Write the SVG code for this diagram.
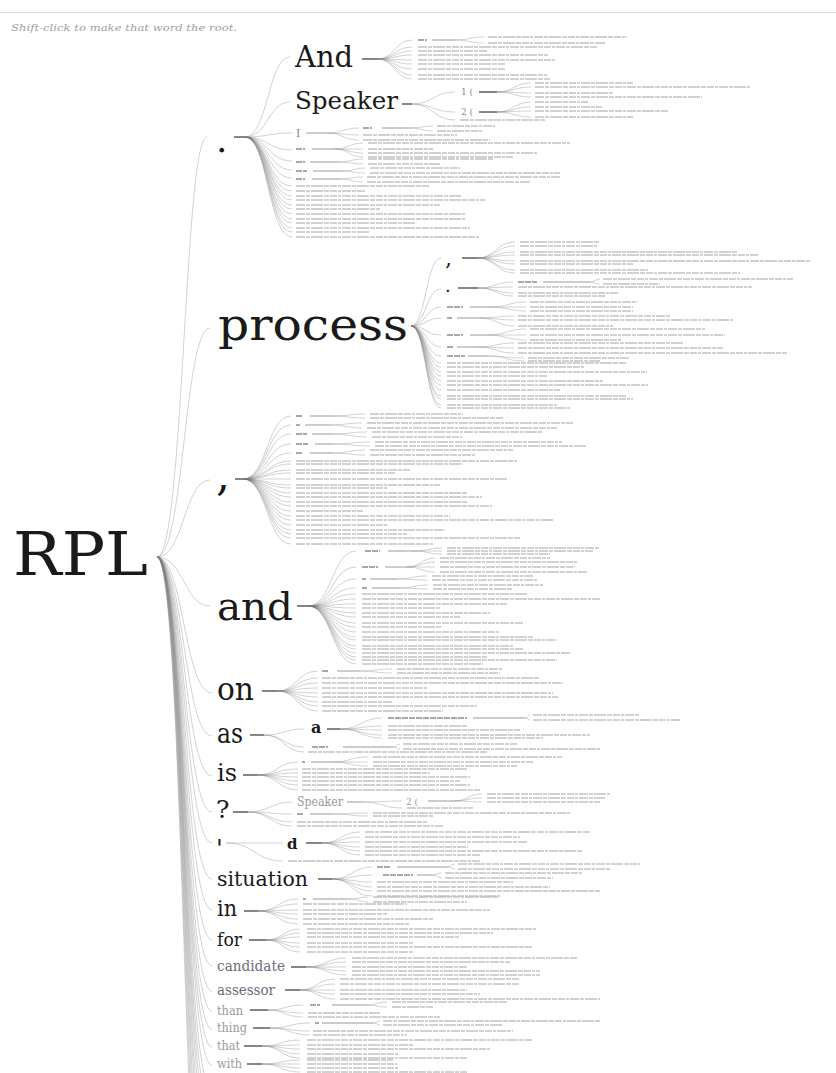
<svg xmlns="http://www.w3.org/2000/svg" width="836" height="1073" viewBox="0 0 836 1073">
<style>
.w{font-family:"DejaVu Serif","Liberation Serif",serif;fill:#1a1a1a}
.g{fill:#6c6c78}
.l{fill:#9a9a9a}
.sm{fill:#8a8a8a}
.hint{font-family:"DejaVu Serif","Liberation Serif",serif;font-style:italic;font-size:10px;fill:#a0a0a0}
.c{fill:none;stroke:#777;stroke-opacity:.42;stroke-width:.8}
.d{fill:none;stroke:#5e5e5e;stroke-width:1.6}
.d2{fill:none;stroke:#9a9a9a;stroke-width:1.2}
.t{fill:none;stroke:#c2c2c2;stroke-width:1.3;stroke-dasharray:9 1 4 1 12 1 5 1 7 1 3 1}
.s{fill:none;stroke:#a8a8a8;stroke-width:2;stroke-dasharray:6 1}
</style>
<rect width="836" height="1073" fill="#fff"/>
<line x1="0" y1="12.5" x2="836" y2="12.5" stroke="#d6d6d6"/>
<text class="hint" x="11" y="31" textLength="226" lengthAdjust="spacingAndGlyphs">Shift-click to make that word the root.</text>

<g id="connectors">
<path class="c" d="M157 557C184 557 184 137 207 137M157 557C184 557 184 328 210 328M157 557C184 557 184 480 210 480M157 557C184 557 184 606 210 606M157 557C184 557 184 693 212 693M157 557C184 557 184 736 212 736M157 557C184 557 184 776 212 776M157 557C184 557 184 812 212 812M157 557C184 557 184 843 212 843M157 557C184 557 184 879 212 879M157 557C184 557 184 910 212 910M157 557C184 557 184 940 212 940M157 557C184 557 184 966 212 966M157 557C184 557 184 991 212 991M157 557C184 557 184 1011 212 1011M157 557C184 557 184 1029 212 1029M157 557C184 557 184 1047 212 1047M157 557C184 557 184 1065 212 1065M157 557C184 557 184 1090 212 1090M157 557C184 557 184 1110 212 1110M157 557C184 557 184 1130 212 1130M157 557C184 557 184 1150 212 1150M157 557C184 557 184 1175 212 1175M157 557C184 557 184 1200 212 1200M157 557C184 557 184 1230 212 1230M157 557C184 557 184 1260 212 1260M157 557C184 557 184 1300 212 1300M157 557C184 557 184 1340 212 1340"/>
<path class="c" d="M245 137C268 137 268 57 290 57M245 137C268 137 268 102 290 102M245 137C268 137 268 133 292 133M245 137C268 137 268 150 292 150M245 137C268 137 268 161 292 161M245 137C268 137 268 170 292 170M245 137C268 137 268 178 292 178M245 137C268 137 268 186 292 186M245 137C268 137 268 191 292 191M245 137C268 137 268 196 292 196M245 137C268 137 268 200 292 200M245 137C268 137 268 205 292 205M245 137C268 137 268 209 292 209M245 137C268 137 268 214 292 214M245 137C268 137 268 219 292 219M245 137C268 137 268 223 292 223M245 137C268 137 268 228 292 228M245 137C268 137 268 232 292 232M245 137C268 137 268 237 292 237"/>
<path class="c" d="M377 59C395 59 395 40 412 40M377 59C395 59 395 47 412 47M377 59C395 59 395 51 412 51M377 59C395 59 395 55 412 55M377 59C395 59 395 60 412 60M377 59C395 59 395 64 412 64M377 59C395 59 395 69 412 69M377 59C395 59 395 75 412 75M377 59C395 59 395 79 412 79M455 40C470 40 470 37 484 37M455 40C470 40 470 43 484 43M412 104C433 104 433 92 455 92M412 104C433 104 433 112 455 112M412 104C433 104 433 120 455 120M497 92C514 92 514 83 531 83M497 92C514 92 514 87 531 87M497 92C514 92 514 93 531 93M497 92C514 92 514 97 531 97M497 112C514 112 514 102 531 102M497 112C514 112 514 107 531 107M497 112C514 112 514 111 531 111M497 112C514 112 514 117 531 117M327 133C343 133 343 128 359 128M327 133C343 133 343 135 359 135M327 133C343 133 343 140 359 140M410 128C422 128 422 126 433 126M410 128C422 128 422 131 433 131M335 149C349 149 349 143 363 143M335 149C349 149 349 149 363 149M335 149C349 149 349 153 363 153M335 149C349 149 349 157 363 157M338 162C351 162 351 159 363 159M338 162C351 162 351 164 363 164M342 171C354 171 354 168 365 168M342 171C354 171 354 173 365 173M340 179C352 179 352 177 363 177M340 179C352 179 352 182 363 182"/>
<path class="c" d="M411 326C426 326 426 258 441 258M411 326C426 326 426 289 441 289M411 326C426 326 426 307 441 307M411 326C426 326 426 318 441 318M411 326C426 326 426 335 441 335M411 326C426 326 426 347 441 347M411 326C426 326 426 356 441 356M411 326C426 326 426 363 441 363M411 326C426 326 426 367 441 367M411 326C426 326 426 372 441 372M411 326C426 326 426 376 441 376M411 326C426 326 426 381 441 381M411 326C426 326 426 385 441 385M411 326C426 326 426 390 441 390M411 326C426 326 426 396 441 396M411 326C426 326 426 399 441 399M411 326C426 326 426 405 441 405M411 326C426 326 426 408 441 408"/>
<path class="c" d="M477 258C496 258 496 242 515 242M477 258C496 258 496 246 515 246M477 258C496 258 496 252 515 252M477 258C496 258 496 255 515 255M477 258C496 258 496 261 515 261M477 258C496 258 496 264 515 264M477 258C496 258 496 270 515 270M477 258C496 258 496 273 515 273M478 288C496 288 496 282 513 282M478 288C496 288 496 287 513 287M478 288C496 288 496 293 513 293M478 288C496 288 496 296 513 296M590 282C595 282 595 279 600 279M590 282C595 282 595 284 600 284M490 307C508 307 508 302 526 302M490 307C508 307 508 307 526 307M490 307C508 307 508 311 526 311M480 318C497 318 497 316 514 316M480 318C497 318 497 320 514 320M480 318C497 318 497 326 514 326M487 335C507 335 507 329 526 329M487 335C507 335 507 335 526 335M487 335C507 335 507 340 526 340M477 347C496 347 496 343 514 343M477 347C496 347 496 348 514 348M477 347C496 347 496 353 514 353M488 356C506 356 506 358 524 358M488 356C506 356 506 361 524 361"/>
<path class="c" d="M243 479C267 479 267 416 291 416M243 479C267 479 267 425 291 425M243 479C267 479 267 434 291 434M243 479C267 479 267 444 291 444M243 479C267 479 267 453 291 453M243 479C267 479 267 461 291 461M243 479C267 479 267 464 291 464M243 479C267 479 267 470 291 470M243 479C267 479 267 473 291 473M243 479C267 479 267 479 291 479M243 479C267 479 267 485 291 485M243 479C267 479 267 488 291 488M243 479C267 479 267 493 291 493M243 479C267 479 267 497 291 497M243 479C267 479 267 502 291 502M243 479C267 479 267 506 291 506M243 479C267 479 267 511 291 511M243 479C267 479 267 516 291 516M243 479C267 479 267 520 291 520M243 479C267 479 267 525 291 525M243 479C267 479 267 530 291 530M243 479C267 479 267 534 291 534M243 479C267 479 267 538 291 538M243 479C267 479 267 544 291 544M333 416C349 416 349 414 365 414M333 416C349 416 349 418 365 418M330 425C346 425 346 423 362 423M330 425C346 425 346 428 362 428M333 434C350 434 350 432 367 432M333 434C350 434 350 437 367 437M333 444C352 444 352 442 370 442M333 444C352 444 352 446 370 446M333 453C349 453 349 450 365 450M333 453C349 453 349 455 365 455"/>
<path class="c" d="M308 606C332 606 332 551 356 551M308 606C332 606 332 567 356 567M308 606C332 606 332 579 356 579M308 606C332 606 332 588 356 588M308 606C332 606 332 594 356 594M308 606C332 606 332 599 356 599M308 606C332 606 332 604 356 604M308 606C332 606 332 608 356 608M308 606C332 606 332 613 356 613M308 606C332 606 332 617 356 617M308 606C332 606 332 623 356 623M308 606C332 606 332 627 356 627M308 606C332 606 332 632 356 632M308 606C332 606 332 637 356 637M308 606C332 606 332 640 356 640M308 606C332 606 332 646 356 646M308 606C332 606 332 649 356 649M308 606C332 606 332 653 356 653M308 606C332 606 332 657 356 657M308 606C332 606 332 660 356 660M308 606C332 606 332 664 356 664M413 551C428 551 428 548 442 548M413 551C428 551 428 551 442 551M413 551C428 551 428 554 442 554M407 567C421 567 421 558 435 558M407 567C421 567 421 562 435 562M407 567C421 567 421 567 435 567M407 567C421 567 421 572 435 572M397 579C412 579 412 576 427 576M397 579C412 579 412 580 427 580M400 588C414 588 414 585 428 585M400 588C414 588 414 589 428 589"/>
<path class="c" d="M277 691C297 691 297 671 318 671M277 691C297 691 297 678 318 678M277 691C297 691 297 683 318 683M277 691C297 691 297 688 318 688M277 691C297 691 297 693 318 693M277 691C297 691 297 697 318 697M277 691C297 691 297 702 318 702M277 691C297 691 297 706 318 706M277 691C297 691 297 711 318 711M360 671C376 671 376 669 392 669M360 671C376 671 376 673 392 673"/>
<path class="c" d="M264 735C284 735 284 729 304 729M264 735C284 735 284 747 304 747M264 735C284 735 284 752 304 752M340 729C361 729 361 718 382 718M340 729C361 729 361 726 382 726M340 729C361 729 361 730 382 730M340 729C361 729 361 735 382 735M340 729C361 729 361 738 382 738M525 718C528 718 528 715 530 715M525 718C528 718 528 720 530 720M393 747C397 747 397 744 400 744M393 747C397 747 397 749 400 749"/>
<path class="c" d="M257 775C278 775 278 762 298 762M257 775C278 775 278 769 298 769M257 775C278 775 278 773 298 773M257 775C278 775 278 777 298 777M257 775C278 775 278 781 298 781M257 775C278 775 278 785 298 785M257 775C278 775 278 790 298 790M333 762C350 762 350 757 368 757M333 762C350 762 350 762 368 762M333 762C350 762 350 766 368 766"/>
<path class="c" d="M248 812C270 812 270 802 292 802M248 812C270 812 270 814 292 814M248 812C270 812 270 822 292 822M248 812C270 812 270 826 292 826M362 802C382 802 382 801 402 801M362 802C382 802 382 808 402 808M453 801C468 801 468 794 482 794M453 801C468 801 468 798 482 798M453 801C468 801 468 802 482 802M333 814C350 814 350 813 368 813M333 814C350 814 350 816 368 816"/>
<path class="c" d="M226 843C255 843 255 843 283 843M226 843C255 843 255 861 283 861M322 843C341 843 341 832 360 832M322 843C341 843 341 837 360 837M322 843C341 843 341 842 360 842M322 843C341 843 341 847 360 847M322 843C341 843 341 851 360 851M322 843C341 843 341 855 360 855"/>
<path class="c" d="M332 879C352 879 352 867 372 867M332 879C352 879 352 875 372 875M332 879C352 879 352 882 372 882M332 879C352 879 352 887 372 887M332 879C352 879 352 891 372 891M332 879C352 879 352 896 372 896M447 867C451 867 451 864 455 864M447 867C451 867 451 869 455 869M433 875C437 875 437 873 442 873M433 875C437 875 437 878 442 878"/>
<path class="c" d="M258 911C278 911 278 899 298 899M258 911C278 911 278 904 298 904M258 911C278 911 278 910 298 910M258 911C278 911 278 914 298 914M258 911C278 911 278 919 298 919M258 911C278 911 278 924 298 924M350 899C359 899 359 897 368 897M350 899C359 899 359 902 368 902"/>
<path class="c" d="M266 940C283 940 283 929 300 929M266 940C283 940 283 933 300 933M266 940C283 940 283 937 300 937M266 940C283 940 283 943 300 943M266 940C283 940 283 947 300 947M266 940C283 940 283 952 300 952"/>
<path class="c" d="M306 967C326 967 326 958 346 958M306 967C326 967 326 962 346 962M306 967C326 967 326 967 346 967M306 967C326 967 326 971 346 971M306 967C326 967 326 975 346 975"/>
<path class="c" d="M300 990C317 990 317 979 335 979M300 990C317 990 317 984 335 984M300 990C317 990 317 990 335 990M300 990C317 990 317 994 335 994M300 990C317 990 317 999 335 999"/>
<path class="c" d="M268 1010C285 1010 285 1005 303 1005M268 1010C285 1010 285 1013 303 1013M268 1010C285 1010 285 1017 303 1017M367 1005C377 1005 377 1002 387 1002M367 1005C377 1005 377 1007 387 1007"/>
<path class="c" d="M270 1028C290 1028 290 1023 310 1023M270 1028C290 1028 290 1031 310 1031M270 1028C290 1028 290 1035 310 1035M373 1023C377 1023 377 1021 380 1021M373 1023C377 1023 377 1025 380 1025"/>
<path class="c" d="M262 1046C281 1046 281 1040 300 1040M262 1046C281 1046 281 1045 300 1045M262 1046C281 1046 281 1049 300 1049M262 1046C281 1046 281 1054 300 1054M262 1046C281 1046 281 1058 300 1058"/>
<path class="c" d="M262 1064C281 1064 281 1060 300 1060M262 1064C281 1064 281 1064 300 1064M262 1064C281 1064 281 1068 300 1068M262 1064C281 1064 281 1072 300 1072"/>
<path class="d" d="M234 137H245M362 59H377M402 104H412M479 92H497M479 112H497M462 258H477M458 288H478M235 479H243M297 606H308M262 691H277M250 735H264M327 729H340M243 775H257M233 812H248M306 843H322M318 879H332M244 911H258M249 940H266M291 967H306M285 990H300M250 1010H268M253 1028H270M244 1046H262M247 1064H262"/>
<path class="d2" d="M432 40H455M306 133H327M382 128H410M312 149H335M310 162H338M313 171H342M312 179H340M543 282H590M470 307H490M457 318H480M470 335H487M457 347H477M468 356H488M310 416H333M305 425H330M312 434H333M315 444H333M310 453H333M388 551H413M385 567H407M370 579H397M372 588H400M337 671H360M473 718H525M343 747H393M311 762H333M347 802H362M428 801H453M310 814H333M397 867H447M417 875H433M313 899H350M332 1005H367M322 1023H373"/>
</g>

<g id="leaf-texts">
<path class="s" d="M418 40H427M363 128H372M296 149H305M296 162H305M296 171H307M296 179H305M518 282H537M447 307H463M447 318H452M447 335H463M447 347H453M447 356H465M296 416H303M296 425H300M296 434H307M296 444H308M296 453H303M365 551H380M362 567H378M362 579H366M362 588H367M322 671H328M388 718H467M312 747H328M302 762H305M297 814H303M377 867H390M383 875H413M303 899H306M310 1005H320M315 1023H319"/>
<path class="t" d="M296 186H430M296 191H365M296 196H462M296 200H485M296 205H440M296 209H380M296 214H465M296 219H465M296 223H415M296 228H470M296 232H370M296 237H480M488 37H627M488 43H605M418 47H597M418 51H487M418 55H548M418 60H555M418 64H505M418 69H506M418 75H547M418 79H550M460 120H545M535 83H633M535 87H750M535 93H613M535 97H702M535 102H588M535 107H602M535 111H668M535 117H633M437 126H495M437 131H483M363 135H457M363 140H490M368 143H570M368 149H433M368 153H537M368 157H513M368 159H493M368 164H440M370 168H460M370 173H560M367 177H560M367 182H530"/>
<path class="t" d="M520 242H600M520 246H597M520 252H737M520 255H758M520 261H810M520 264H633M520 270H648M520 273H740M603 279H793M603 284H660M518 287H752M518 293H618M518 296H605M530 302H638M530 307H633M530 311H633M518 316H670M518 320H733M518 326H613M530 329H705M530 335H725M530 340H622M518 343H683M518 348H723M518 353H787M528 358H630M528 361H600M447 363H627M447 367H585M447 372H647M447 376H547M447 381H603M447 385H648M447 390H560M447 396H627M447 399H633M447 405H557M447 408H570"/>
<path class="t" d="M370 414H463M370 418H503M367 423H573M367 428H557M372 432H542M372 437H462M375 442H562M375 446H587M370 450H513M370 455H475M296 461H517M296 464H463M296 470H410M296 473H395M296 479H508M296 485H440M296 488H387M296 493H467M296 497H482M296 502H468M296 506H492M296 511H363M296 516H450M296 520H553M296 525H387M296 530H445M296 534H407M296 538H520M296 544H433"/>
<path class="t" d="M447 548H600M447 551H593M447 554H550M440 558H550M440 562H577M440 567H575M440 572H587M432 576H533M432 580H537M433 585H543M433 589H513M362 594H527M362 599H600M362 604H507M362 608H440M362 613H490M362 617H460M362 623H523M362 627H442M362 632H500M362 637H533M362 640H557M362 646H513M362 649H523M362 653H570M362 657H487M362 660H557M362 664H483"/>
<path class="t" d="M397 669H502M397 673H500M322 678H540M322 683H563M322 688H427M322 693H553M322 697H558M322 702H392M322 706H477M322 711H443M533 715H640M533 720H680M388 726H467M388 730H520M388 735H590M388 738H543M403 744H517M403 749H600M308 752H487M373 757H562M373 762H533M373 766H517M302 769H467M302 773H430M302 777H470M302 781H460M302 785H470M302 790H480M487 794H610M487 798H605M487 802H600M407 808H473M373 813H570M373 816H433M297 822H427M297 826H443M365 832H590M365 837H520M365 842H527M365 847H468M365 851H583M365 855H480M288 861H480"/>
<path class="t" d="M458 864H640M458 869H610M445 873H583M445 878H553M377 882H513M377 887H550M377 891H600M377 896H500M373 897H498M373 902H467M303 904H407M303 910H490M303 914H387M303 919H433M303 924H410M307 929H537M307 933H493M307 937H460M307 943H413M307 947H533M307 952H413M352 958H577M352 962H510M352 967H467M352 971H540M352 975H540M340 979H520M340 984H520M340 990H467M340 994H480M340 999H600M392 1002H507M392 1007H433M308 1013H380M308 1017H440M383 1021H600M383 1025H503M313 1031H513M313 1035H407M307 1040H533M307 1045H413M307 1049H490M307 1054H398M307 1058H467M307 1060H393M307 1064H397M307 1068H398M307 1072H467"/>
</g>

<g id="n-RPL"><text class="w" x="13" y="575" font-size="60" textLength="135" lengthAdjust="spacingAndGlyphs">RPL</text></g>
<g id="n-dot"><text class="w" x="216" y="152" font-size="36">.</text></g>
<g id="n-And"><text class="w" x="295" y="67" font-size="29" textLength="58" lengthAdjust="spacingAndGlyphs">And</text></g>
<g id="n-Speaker"><text class="w" x="295" y="109" font-size="25" textLength="103" lengthAdjust="spacingAndGlyphs">Speaker</text></g>
<g id="n-1"><text class="w sm" x="461" y="95" font-size="9">1 (</text></g>
<g id="n-2"><text class="w sm" x="461" y="115" font-size="9">2 (</text></g>
<g id="n-I"><text class="w sm" x="296" y="137" font-size="11">I</text></g>
<g id="n-process"><text class="w" x="218" y="340" font-size="44" textLength="190" lengthAdjust="spacingAndGlyphs">process</text></g>
<g id="n-process-comma"><text class="w" x="445" y="266" font-size="22" fill="#333">,</text></g>
<g id="n-process-dot"><text class="w" x="445" y="292" font-size="18" fill="#555">.</text></g>
<g id="n-comma"><text class="w" x="216" y="490" font-size="44">,</text></g>
<g id="n-and"><text class="w" x="217" y="620" font-size="40" textLength="76" lengthAdjust="spacingAndGlyphs">and</text></g>
<g id="n-on"><text class="w" x="217" y="700" font-size="31" textLength="37" lengthAdjust="spacingAndGlyphs">on</text></g>
<g id="n-as"><text class="w" x="217" y="743" font-size="27" textLength="26" lengthAdjust="spacingAndGlyphs">as</text></g>
<g id="n-a"><text class="w" x="311" y="733" font-size="16" font-weight="bold" fill="#333">a</text></g>
<g id="n-is"><text class="w" x="217" y="781" font-size="24" textLength="20" lengthAdjust="spacingAndGlyphs">is</text></g>
<g id="n-q"><text class="w" x="216" y="818" font-size="25">?</text></g>
<g id="n-q-Speaker"><text class="w l" x="297" y="806" font-size="12" textLength="46" lengthAdjust="spacingAndGlyphs">Speaker</text></g>
<g id="n-q-2"><text class="w l" x="406" y="805" font-size="9">2 (</text></g>
<g id="n-apos"><text class="w" x="216" y="857" font-size="25">'</text></g>
<g id="n-d"><text class="w" x="287" y="849" font-size="15" font-weight="bold" fill="#333">d</text></g>
<g id="n-situation"><text class="w" x="217" y="886" font-size="21" textLength="91" lengthAdjust="spacingAndGlyphs">situation</text></g>
<g id="n-in"><text class="w" x="217" y="916" font-size="22" textLength="20" lengthAdjust="spacingAndGlyphs">in</text></g>
<g id="n-for"><text class="w" x="217" y="946" font-size="18" textLength="25" lengthAdjust="spacingAndGlyphs">for</text></g>
<g id="n-candidate"><text class="w g" x="217" y="971" font-size="14" textLength="68" lengthAdjust="spacingAndGlyphs">candidate</text></g>
<g id="n-assessor"><text class="w g" x="217" y="995" font-size="14" textLength="58" lengthAdjust="spacingAndGlyphs">assessor</text></g>
<g id="n-than"><text class="w l" x="217" y="1015" font-size="12" textLength="26" lengthAdjust="spacingAndGlyphs">than</text></g>
<g id="n-thing"><text class="w l" x="217" y="1032" font-size="12" textLength="30" lengthAdjust="spacingAndGlyphs">thing</text></g>
<g id="n-that"><text class="w l" x="217" y="1050" font-size="12" textLength="23" lengthAdjust="spacingAndGlyphs">that</text></g>
<g id="n-with"><text class="w l" x="217" y="1068" font-size="12" textLength="25" lengthAdjust="spacingAndGlyphs">with</text></g>
</svg>
